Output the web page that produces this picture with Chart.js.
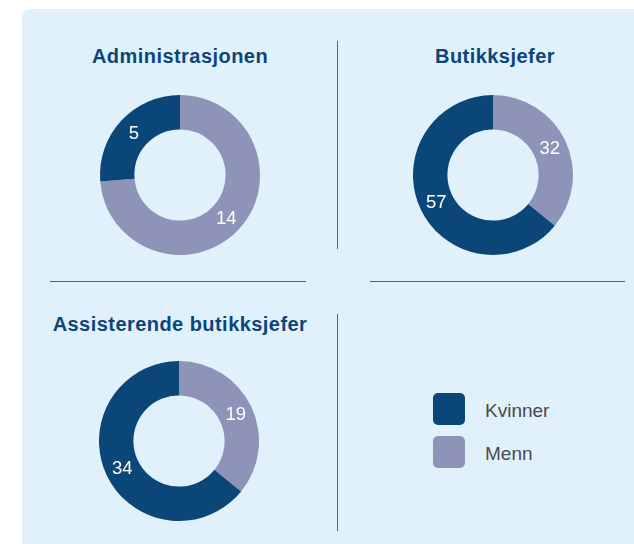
<!DOCTYPE html>
<html>
<head>
<meta charset="utf-8">
<script src="https://cdn.jsdelivr.net/npm/chart.js@4/dist/chart.umd.min.js"></script>
<style>
  html, body { margin: 0; padding: 0; background: #fff; }
  body { width: 634px; height: 544px; position: relative; overflow: hidden; font-family: "Liberation Sans", Arial, sans-serif; }
  #panel { position: absolute; left: 22px; top: 9px; width: 640px; height: 560px; background: #e1f1fc; border-radius: 8px; }
  .title { position: absolute; width: 300px; text-align: center; font-weight: bold; font-size: 20px; line-height: 20px; letter-spacing: 0.45px; color: #0b4679; }
  .vline { position: absolute; width: 1px; background: #4b6592; }
  .hline { position: absolute; height: 1px; background: #4b6592; }
  canvas.donut { position: absolute; }
  .legend { position: absolute; left: 433px; top: 393px; }
  .legend .item { position: relative; height: 43px; }
  .legend .box { position: absolute; left: 0; top: 0; width: 32px; height: 32px; border-radius: 5px; }
  .legend .txt { position: absolute; left: 52px; top: 8px; font-size: 19px; line-height: 19px; color: #4a4a4a; white-space: nowrap; }
</style>
</head>
<body>
<div id="panel"></div>

<div class="title" style="left:30px; top:46px;">Administrasjonen</div>
<div class="title" style="left:345px; top:46px;">Butikksjefer</div>
<div class="title" style="left:30px; top:314px;">Assisterende butikksjefer</div>

<div class="vline" style="left:337px; top:41px; height:208px;"></div>
<div class="vline" style="left:337px; top:314px; height:217px;"></div>
<div class="hline" style="left:50px; top:281px; width:256px;"></div>
<div class="hline" style="left:370px; top:281px; width:255px;"></div>

<canvas class="donut" id="donut0" width="170" height="170" style="left:95px; top:90px;"></canvas>
<canvas class="donut" id="donut1" width="170" height="170" style="left:408px; top:90px;"></canvas>
<canvas class="donut" id="donut2" width="170" height="170" style="left:94px; top:356px;"></canvas>

<div class="legend" id="legend"></div>

<script>
const categories = ['Administrasjonen', 'Butikksjefer', 'Assisterende butikksjefer'];
const seriesLabels = ['Kvinner', 'Menn'];
const kvinner = [5, 57, 34];
const menn = [14, 32, 19];

const colKvinner = '#0b4679';
const colMenn = '#8d94b8';

// white numbers in the middle of each ring segment
const valueLabels = {
    id: 'valueLabels',
    afterDatasetsDraw(chart) {
        const ctx = chart.ctx;
        const meta = chart.getDatasetMeta(0);
        const values = chart.data.datasets[0].data;
        ctx.save();
        ctx.fillStyle = '#ffffff';
        ctx.font = '18.5px "Liberation Sans", Arial, sans-serif';
        ctx.textAlign = 'center';
        ctx.textBaseline = 'middle';
        meta.data.forEach((arc, i) => {
            const p = arc.getCenterPoint();
            ctx.fillText(values[i], p.x, p.y + 1);
        });
        ctx.restore();
    }
};

for (let i = 0; i < categories.length; i++){
    const ctx = document.getElementById('donut' + i).getContext('2d');
    new Chart(ctx, {
        type: 'doughnut',
        data: {
            labels: [seriesLabels[1], seriesLabels[0]],
            datasets: [{
                data: [menn[i], kvinner[i]],
                backgroundColor: [colMenn, colKvinner],
                borderWidth: 0,
                hoverOffset: 0
            }]
        },
        options: {
            responsive: false,
            maintainAspectRatio: false,
            animation: false,
            cutout: '57%',
            layout: { padding: 5 },
            events: [],
            plugins: {
                legend: { display: false },
                tooltip: { enabled: false },
                title: { display: false }
            }
        },
        plugins: [valueLabels]
    });
}

const legendEl = document.getElementById('legend');
const legendColors = [colKvinner, colMenn];
seriesLabels.forEach((name, i) => {
    const item = document.createElement('div');
    item.className = 'item';
    item.innerHTML = '<div class="box" style="background:' + legendColors[i] + '"></div><div class="txt">' + name + '</div>';
    legendEl.appendChild(item);
});
</script>
</body>
</html>
